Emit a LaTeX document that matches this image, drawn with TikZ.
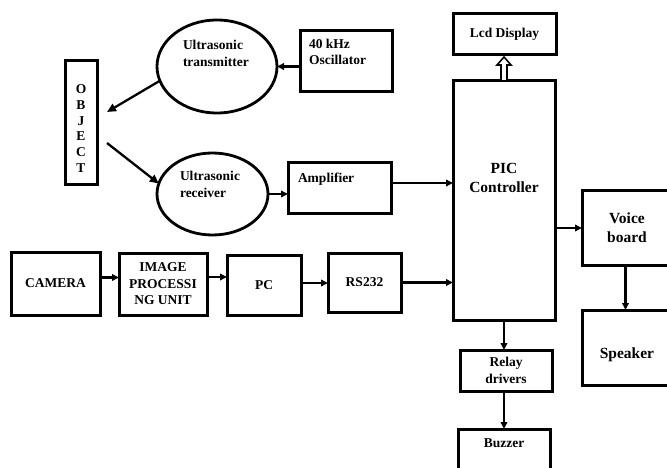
\documentclass[tikz,border=0pt]{standalone}
\usepackage{fontspec}
\setmainfont{Liberation Serif}
\usetikzlibrary{arrows.meta,shapes.geometric,calc}
\tikzset{
  box/.style={draw, rectangle, line width=3pt, inner sep=0pt, outer sep=0pt, align=center,
    font=\bfseries\fontsize{13.5}{16.5}\selectfont},
  oval/.style={draw, ellipse, line width=2.8pt, inner sep=0pt, outer sep=0pt},
  txt/.style={inner sep=0pt, outer sep=0pt, font=\bfseries\fontsize{13.5}{16.5}\selectfont},
  bigtxt/.style={inner sep=0pt, outer sep=0pt, align=center, font=\bfseries\fontsize{15.5}{19}\selectfont},
  conn/.style={line width=2.3pt, -{Triangle[length=7pt,width=6.5pt]}},
  hollow/.style={draw, line width=1.6pt, fill=white, line join=miter}
}
\begin{document}
\begin{tikzpicture}[x=1pt,y=-1pt]
\useasboundingbox (0,0) rectangle (667,468);
\clip (0,0) rectangle (667,468);
\fill[white] (0,0) rectangle (667,468);

% ellipses
\node[oval, minimum width=120pt, minimum height=93pt] (tx) at (217,66.5) {};
\node[oval, minimum width=111pt, minimum height=82pt] (rx) at (212.5,194) {};
\node[txt, align=left, anchor=west] (txlabel) at (183,53.5) {Ultrasonic\\transmitter};
\node[txt, align=left, anchor=west] (rxlabel) at (180,184.5) {Ultrasonic\\receiver};

% left column
\node[box, minimum width=32pt, minimum height=124pt] (obj) at (81,123) {};
\node[txt, align=center, font=\bfseries\fontsize{13.5}{15.8}\selectfont] (objlabel) at (81,128.5) {O\\B\\J\\E\\C\\T};

% top boxes
\node[box, minimum width=92pt, minimum height=61pt] (osc) at (346,61.5) {};
\node[txt, align=left, anchor=west] (osclabel) at (309,52) {40 kHz\\Oscillator};
\node[box, minimum width=103pt, minimum height=50pt] (amp) at (339.5,188) {};
\node[txt, anchor=west] (amplabel) at (298,179) {Amplifier};

\node[box, minimum width=103pt, minimum height=41pt] (lcd) at (504.5,34.5) {Lcd Display};
\node[box, minimum width=102pt, minimum height=239pt] (pic) at (504,200.5) {};
\node[bigtxt] (piclabel) at (504,178) {PIC\\Controller};

\node[box, minimum width=90pt, minimum height=74pt, font=\bfseries\fontsize{15.5}{19}\selectfont] (voice) at (627,228) {Voice\\board};
\node[box, minimum width=90pt, minimum height=75pt] (speaker) at (627,347.5) {};
\node[bigtxt] (speakerlabel) at (627,355) {Speaker};

\node[box, minimum width=92pt, minimum height=41pt] (relay) at (506,370.5) {Relay\\drivers};
\node[box, minimum width=92pt, minimum height=46pt] (buzzer) at (504,452) {};
\node[txt] (buzzerlabel) at (504,443) {Buzzer};

% bottom row
\node[box, minimum width=89pt, minimum height=63pt] (cam) at (55.5,283.5) {CAMERA};
\node[box, minimum width=88pt, minimum height=62pt] (img) at (163,284) {IMAGE\\PROCESSI\\NG UNIT};
\node[box, minimum width=74pt, minimum height=60pt] (pc) at (264,285) {PC};
\node[box, minimum width=73pt, minimum height=59pt] (rs) at (364.5,282.5) {RS232};

% free ends near the object
\coordinate (objA) at (107,112);
\coordinate (objB) at (107,143);

% connectors
\draw[conn] (osc.west |- tx.east) -- (tx.east);
\draw[conn, -{Triangle[length=9pt,width=8pt]}] (tx.194) -- (objA);
\draw[conn, -{Triangle[length=9pt,width=8pt]}] (objB) -- (rx.169);
\draw[conn] (rx.east) -- (rx.east -| amp.west);
\draw[conn] ([yshift=5pt]amp.east) -- ([yshift=5pt]amp.east -| pic.west);
\draw[conn] ([yshift=6pt]cam.east) -- ([yshift=6pt]cam.east -| img.west);
\draw[conn] ([yshift=7pt]img.east) -- ([yshift=7pt]img.east -| pc.west);
\draw[conn] ([yshift=2pt]pc.east) -- ([yshift=2pt]pc.east -| rs.west);
\draw[conn] (rs.east) -- (rs.east -| pic.west);
\draw[conn] (pic.east |- voice.west) -- (voice.west);
\draw[conn] ([xshift=-1.5pt]voice.south) -- ([xshift=-1.5pt]speaker.north);
\draw[conn] (pic.south) -- (pic.south |- relay.north);
\draw[conn] (pic.south |- relay.south) -- (pic.south |- buzzer.north);

% hollow arrow to the display
\draw[hollow] ([xshift=-3pt]pic.north) -- ++(0,-16) -- ++(-4,0) -- ++(7,-8) -- ++(7,8) -- ++(-4,0) -- ++(0,16) -- cycle;
\end{tikzpicture}
\end{document}
